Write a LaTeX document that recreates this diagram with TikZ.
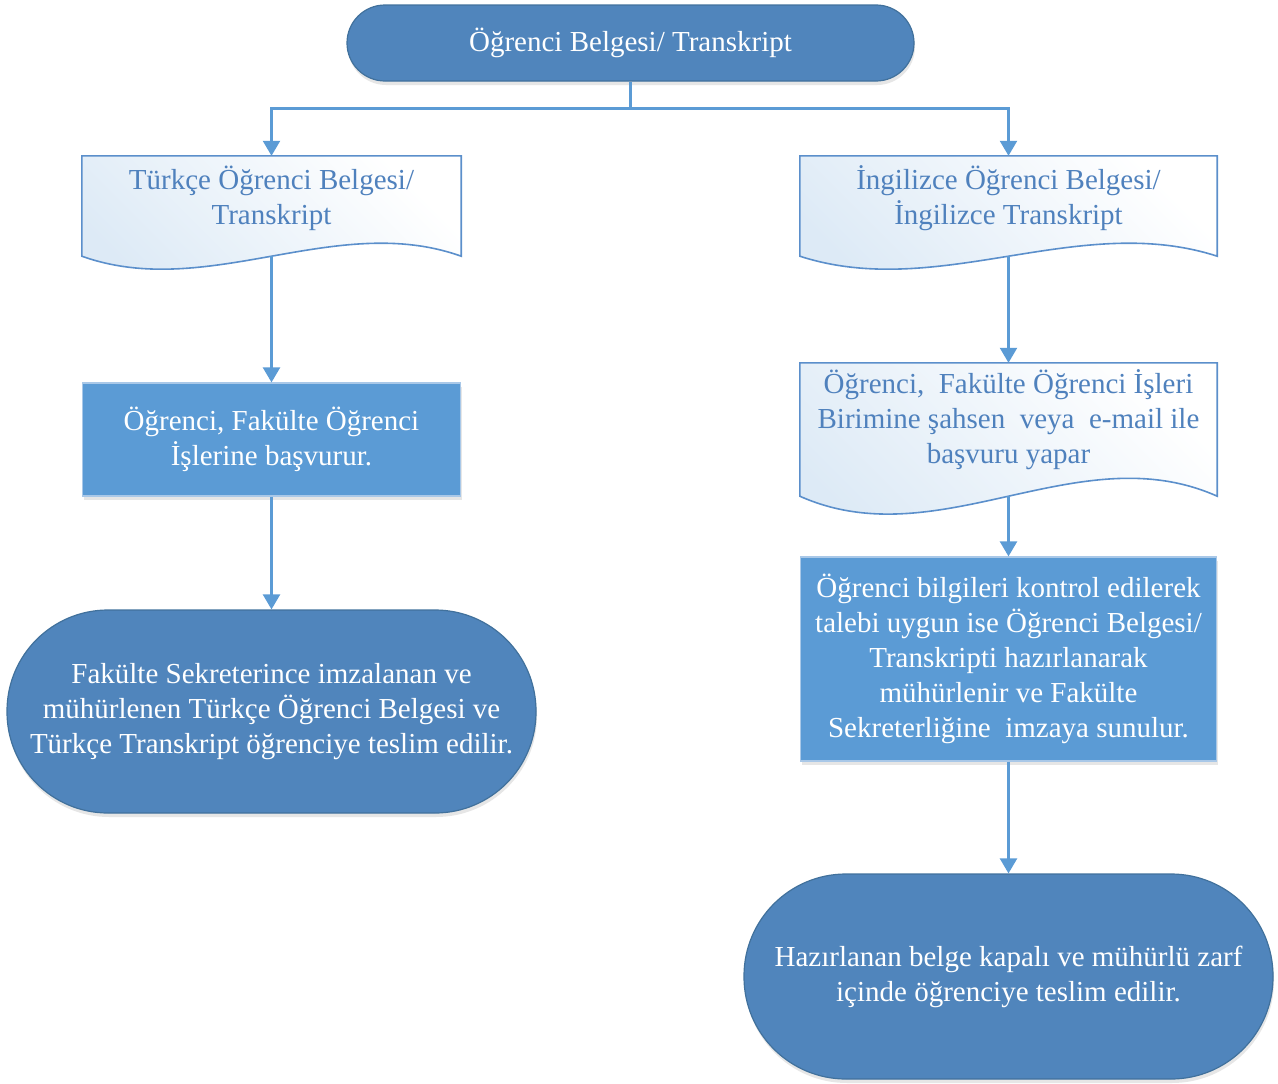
\documentclass[tikz,border=0pt]{standalone}
\usepackage{fontspec}
\setmainfont{Liberation Serif}
\usetikzlibrary{arrows.meta,calc,backgrounds,shadows}
\definecolor{termfill}{HTML}{5085BC}
\definecolor{termline}{HTML}{41719C}
\definecolor{rectfill}{HTML}{5B9BD5}
\definecolor{rectline}{HTML}{A9C8E8}
\definecolor{docline}{HTML}{5B8FCB}
\definecolor{doctint}{HTML}{DDEAF6}
\definecolor{doctext}{HTML}{4F81BD}
\definecolor{connline}{HTML}{5B9BD5}
\tikzset{
  basefont/.style={font=\fontsize{29pt}{35pt}\selectfont, align=center},
  softshadow/.style={drop shadow={opacity=0.14, shadow xshift=1pt, shadow yshift=-4pt, fill=black!70}},
  termbox/.style={basefont, text=white, fill=termfill, draw=termline, line width=1.2pt, inner sep=0pt, softshadow},
  procbox/.style={basefont, text=white, fill=rectfill, draw=rectline, line width=1.2pt, inner sep=0pt, softshadow},
  docbox/.style={inner sep=0pt},
  doclabel/.style={basefont, text=doctext, inner sep=0pt},
  docpaint/.style={draw=docline, line width=1.6pt, top color=white, bottom color=doctint, shading angle=-45},
  conn/.style={draw=connline, line width=2.4pt, -{Triangle[width=17pt,length=15pt]}},
  connplain/.style={draw=connline, line width=2.4pt},
}
% #1 node name, #2 one third of width, #3 control offset of the wave
\newcommand{\docoutline}[3]{%
  \begin{pgfonlayer}{background}
    \path[docpaint] (#1.south west) -- (#1.north west) -- (#1.north east) -- (#1.south east)
      .. controls ($(#1.south east)+(-#2,-#3)$) and ($(#1.south west)+(#2,#3)$) .. (#1.south west) -- cycle;
  \end{pgfonlayer}}
\begin{document}
\begin{tikzpicture}[x=1pt,y=-1pt]
\useasboundingbox (0,0) rectangle (1278,1084);

% top terminal
\node[termbox, minimum width=567pt, minimum height=76pt, rounded corners=38pt] (top) at (630.5,43) {Öğrenci Belgesi/ Transkript};

% left column
\node[docbox, minimum width=379pt, minimum height=100pt] (tdoc) at (271.5,206) {};
\docoutline{tdoc}{126}{45}
\node[doclabel] (tdoctext) at ([yshift=8pt]tdoc.center) {Türkçe Öğrenci Belgesi/\\Transkript};

\node[procbox, minimum width=378pt, minimum height=113pt] (trect) at (271.5,439.5) {Öğrenci, Fakülte Öğrenci\\İşlerine başvurur.};

\node[termbox, minimum width=529pt, minimum height=203pt, rounded corners=101pt] (tterm) at (271.5,711.5) {Fakülte Sekreterince imzalanan ve\\mühürlenen Türkçe Öğrenci Belgesi ve\\Türkçe Transkript öğrenciye teslim edilir.};

% right column
\node[docbox, minimum width=417pt, minimum height=100pt] (edoc) at (1008.5,206) {};
\docoutline{edoc}{139}{45}
\node[doclabel] (edoctext) at ([yshift=8pt]edoc.center) {İngilizce Öğrenci Belgesi/\\İngilizce Transkript};

\node[docbox, minimum width=417pt, minimum height=133pt] (edoc2) at (1008.5,429.5) {};
\docoutline{edoc2}{139}{62}
\node[doclabel] (edoc2text) at ([yshift=10pt]edoc2.center) {Öğrenci,\ \ Fakülte Öğrenci İşleri\\Birimine şahsen\ \ veya\ \ e-mail ile\\başvuru yapar};

\node[procbox, minimum width=416pt, minimum height=204pt] (erect) at (1008.5,659) {Öğrenci bilgileri kontrol edilerek\\talebi uygun ise Öğrenci Belgesi/\\Transkripti hazırlanarak\\mühürlenir ve Fakülte\\Sekreterliğine\ \ imzaya sunulur.};

\node[termbox, minimum width=529pt, minimum height=205pt, rounded corners=102pt] (eterm) at (1008.5,976.5) {Hazırlanan belge kapalı ve mühürlü zarf\\içinde öğrenciye teslim edilir.};

% connectors
\coordinate (split) at ($(top.south)+(0,27)$);
\draw[connplain] (top.south) -- (split);
\draw[conn] (split) -| (tdoc.north);
\draw[conn] (split) -| (edoc.north);
\draw[conn] (tdoc.south) -- (trect.north);
\draw[conn] (trect.south) -- (tterm.north);
\draw[conn] (edoc.south) -- (edoc2.north);
\draw[conn] (edoc2.south) -- (erect.north);
\draw[conn] (erect.south) -- (eterm.north);
\end{tikzpicture}
\end{document}
